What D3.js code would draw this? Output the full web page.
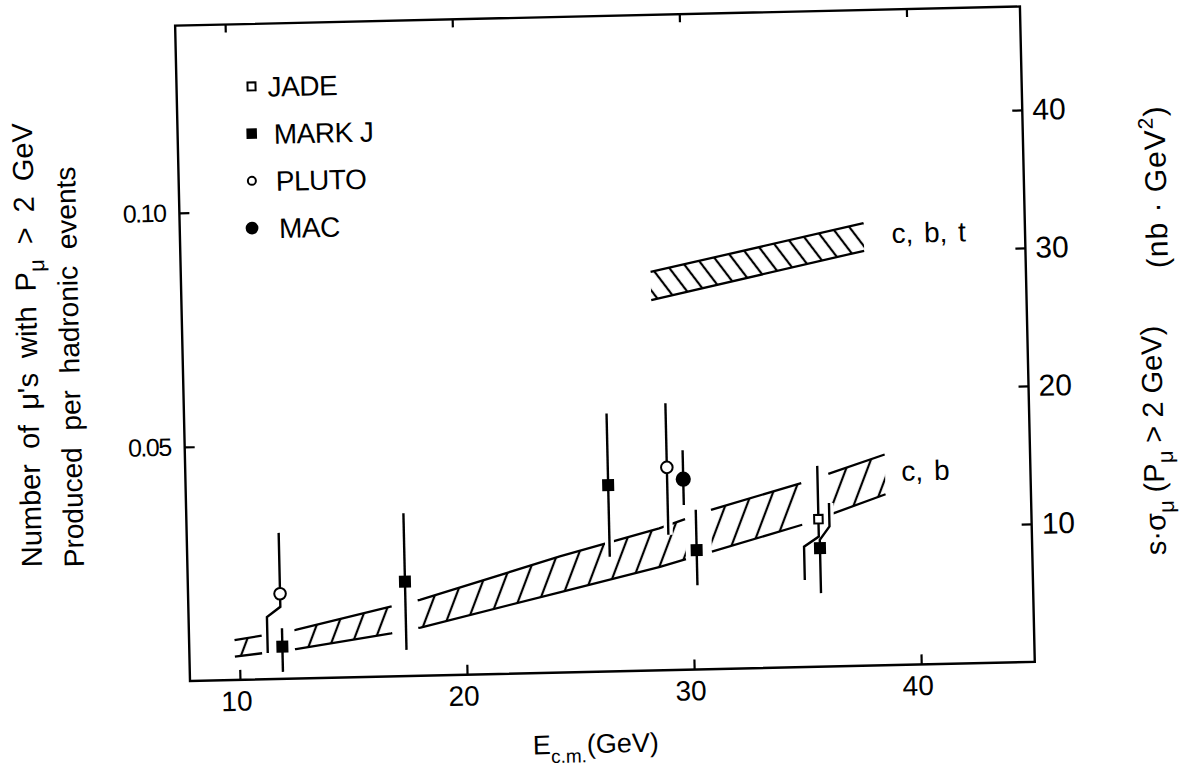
<!DOCTYPE html>
<html lang="en">
<head>
<meta charset="utf-8" />
<title>Muons per hadronic event vs E c.m.</title>
<script src="https://d3js.org/d3.v7.min.js"></script>
<style>
  body { margin: 0; background: #fff; }
  svg { display: block; font-family: "Liberation Sans", Arial, sans-serif; }
  .axis path { display: none; }
  .axis line { stroke: #000; stroke-width: 2.2; }
  .axis text { font-family: "Liberation Sans", Arial, sans-serif; fill: #000; }
</style>
</head>
<body>
<svg width="1182" height="769"></svg>
<script>
// ---- data ----
var xTicks = [10, 20, 30, 40];
var yTicks = [0.05, 0.10];
var yRTicks = [10, 20, 30, 40];

// points: energy, value, top of bar, bottom of bar
var jadeE = [35.62],  jadeVal = [0.0315], jadeHi = [0.0429], jadeLo = [0.0186];
var markjE = [11.9, 17.36, 26.4, 30.23, 35.66];
var markjVal = [0.0069, 0.0202, 0.0398, 0.0255, 0.0253];
var markjHi  = [0.0108, 0.0348, 0.0551, 0.0341, 0.0349];
var markjLo  = [0.0015, 0.0056, 0.0245, 0.0180, 0.0157];
var plutoE = [11.85, 29.0], plutoVal = [0.0182, 0.0433], plutoHi = [0.0312, 0.0570], plutoLo = [0.0056, 0.0289];
var macE = [29.71], macVal = [0.0407], macHi = [0.0469], macLo = [0.0352];

// bars drawn with a side-step to keep them apart
var jogSet   = ["PLUTO", "JADE", "MARK J"];
var jogE     = [11.85, 35.62, 35.66];
var jogFrom  = [0.0154, 0.0278, 0.0271];
var jogTo    = [0.0133, 0.0257, 0.0299];
var jogShift = [-0.6, -0.66, 0.44];

// c,b band edges
var cbE    = [9.8, 12.5, 16.7, 18, 24.2, 28.6, 30.9, 34.9, 38.6];
var cbHigh = [0.0085, 0.0104, 0.0149, 0.0162, 0.0248, 0.0303, 0.0340, 0.0393, 0.0450];
var cbLow  = [0.0050, 0.0063, 0.0092, 0.0103, 0.0172, 0.0221, 0.0251, 0.0304, 0.0365];
var cbSegStart = [9.8, 12.45, 17.9, 30.9, 36.1];
var cbSegEnd   = [11.0, 16.75, 29.75, 34.9, 38.6];

// c,b,t band edges
var cbtE    = [28.48, 37.9];
var cbtHigh = [0.0851, 0.0945];
var cbtLow  = [0.0791, 0.0886];

var legendNames = ["JADE", "MARK J", "PLUTO", "MAC"];

// ---- layout ----
var svg = d3.select("svg");
var mLeft = 190, mRight = 1035, mBottom = 681, mTop = 25.5;
var tilt = -1.3; // the scanned page sits slightly askew

var x = d3.scaleLinear().domain([7.8, 45]).range([mLeft, mRight]);
var y = d3.scaleLinear().domain([0, 0.14]).range([mBottom, mTop]);
var yR = d3.scaleLinear().domain([0, 47.5]).range([mBottom, mTop]);

// page position -> position in the tilted frame
function unTilt(sx, sy) {
  var a = -tilt * Math.PI / 180, c = Math.cos(a), s = Math.sin(a);
  var dx = sx - mLeft, dy = sy - mBottom;
  return [mLeft + dx * c - dy * s, mBottom + dx * s + dy * c];
}

var defs = svg.append("defs");
var p1 = defs.append("pattern").attr("id", "hatchCB")
    .attr("patternUnits", "userSpaceOnUse")
    .attr("width", 20).attr("height", 40)
    .attr("patternTransform", "rotate(22)");
p1.append("line").attr("x1", 10).attr("x2", 10).attr("y1", -2).attr("y2", 42)
    .attr("stroke", "#000").attr("stroke-width", 2.2);
var p2 = defs.append("pattern").attr("id", "hatchCBT")
    .attr("patternUnits", "userSpaceOnUse")
    .attr("width", 14).attr("height", 40)
    .attr("patternTransform", "rotate(-36)");
p2.append("line").attr("x1", 7).attr("x2", 7).attr("y1", -2).attr("y2", 42)
    .attr("stroke", "#000").attr("stroke-width", 2.2);

var g = svg.append("g").attr("transform", "rotate(" + tilt + "," + mLeft + "," + mBottom + ")");

// frame
g.append("rect")
    .attr("x", mLeft).attr("y", mTop)
    .attr("width", mRight - mLeft).attr("height", mBottom - mTop)
    .attr("fill", "none").attr("stroke", "#000").attr("stroke-width", 2.4);

// axes
g.append("g").attr("class", "axis")
    .attr("transform", "translate(0," + mBottom + ")")
    .call(d3.axisBottom(x).tickValues(xTicks).tickSize(-10).tickPadding(11).tickFormat(d3.format("d")))
    .selectAll("text").style("font-size", "28px").attr("dx", -4);
g.append("g").attr("class", "axis")
    .attr("transform", "translate(0," + mTop + ")")
    .call(d3.axisTop(x).tickValues(xTicks).tickSize(-8).tickFormat(""));
g.append("g").attr("class", "axis")
    .attr("transform", "translate(" + mLeft + ",0)")
    .call(d3.axisLeft(y).tickValues(yTicks).tickSize(-10).tickPadding(14).tickFormat(d3.format(".2f")))
    .selectAll("text").style("font-size", "25px").style("letter-spacing", "-1.5px");
g.append("g").attr("class", "axis")
    .attr("transform", "translate(" + mRight + ",0)")
    .call(d3.axisRight(yR).tickValues(yRTicks).tickSize(-10).tickPadding(10).tickFormat(d3.format("d")))
    .selectAll("text").style("font-size", "30px");

// bands
function band(Es, lows, highs, e0, e1) {
  var lo = d3.scaleLinear().domain(Es).range(lows);
  var hi = d3.scaleLinear().domain(Es).range(highs);
  var pts = [e0].concat(Es.filter(function(e) { return e > e0 && e < e1; }), [e1]);
  return pts.map(function(e) { return {E: e, lo: lo(e), hi: hi(e)}; });
}
var area = d3.area().x(function(d) { return x(d.E); })
    .y0(function(d) { return y(d.lo); }).y1(function(d) { return y(d.hi); });
var edgeLo = d3.line().x(function(d) { return x(d.E); }).y(function(d) { return y(d.lo); });
var edgeHi = d3.line().x(function(d) { return x(d.E); }).y(function(d) { return y(d.hi); });

function drawBand(pts, fill) {
  g.append("path").attr("d", area(pts)).attr("fill", fill);
  g.append("path").attr("d", edgeLo(pts)).attr("fill", "none").attr("stroke", "#000").attr("stroke-width", 2.3);
  g.append("path").attr("d", edgeHi(pts)).attr("fill", "none").attr("stroke", "#000").attr("stroke-width", 2.3);
}
cbSegStart.forEach(function(s, i) {
  drawBand(band(cbE, cbLow, cbHigh, s, cbSegEnd[i]), "url(#hatchCB)");
});
drawBand(band(cbtE, cbtLow, cbtHigh, cbtE[0], cbtE[1]), "url(#hatchCBT)");

// points
var sets = [
  {name: "JADE",   E: jadeE,  v: jadeVal,  hi: jadeHi,  lo: jadeLo,  shape: "sq",  fill: "#fff", size: 8.5},
  {name: "MARK J", E: markjE, v: markjVal, hi: markjHi, lo: markjLo, shape: "sq",  fill: "#000", size: 10},
  {name: "PLUTO",  E: plutoE, v: plutoVal, hi: plutoHi, lo: plutoLo, shape: "cir", fill: "#fff", size: 5.8},
  {name: "MAC",    E: macE,   v: macVal,   hi: macHi,   lo: macLo,   shape: "cir", fill: "#000", size: 6.6}
];
var points = [];
sets.forEach(function(s) {
  s.E.forEach(function(e, i) {
    points.push({set: s, E: e, v: s.v[i], hi: s.hi[i], lo: s.lo[i]});
  });
});

function barPath(d) {
  var j = -1;
  jogSet.forEach(function(n, k) { if (n === d.set.name && jogE[k] === d.E) j = k; });
  if (j < 0) return [[d.E, d.hi], [d.E, d.lo]];
  var end = jogTo[j] < jogFrom[j] ? d.lo : d.hi;
  var start = end === d.lo ? d.hi : d.lo;
  return [[d.E, start], [d.E, jogFrom[j]], [d.E + jogShift[j], jogTo[j]], [d.E + jogShift[j], end]];
}
var barLine = d3.line().x(function(p) { return x(p[0]); }).y(function(p) { return y(p[1]); });

g.selectAll(".halo").data(points).enter().append("path")
    .attr("d", function(d) { return barLine(barPath(d)); })
    .attr("fill", "none").attr("stroke", "#fff").attr("stroke-width", 9);
g.selectAll(".bar").data(points).enter().append("path")
    .attr("d", function(d) { return barLine(barPath(d)); })
    .attr("fill", "none").attr("stroke", "#000").attr("stroke-width", 2.4);

function marker(sel, s, size) {
  if (s.shape === "sq") {
    sel.append("rect").attr("x", -size / 2).attr("y", -size / 2)
        .attr("width", size).attr("height", size)
        .attr("fill", s.fill).attr("stroke", "#000").attr("stroke-width", 2);
  } else {
    sel.append("circle").attr("r", size)
        .attr("fill", s.fill).attr("stroke", "#000").attr("stroke-width", 2);
  }
}
points.forEach(function(d) {
  var m = g.append("g").attr("transform", "translate(" + x(d.E) + "," + y(d.v) + ")");
  marker(m, d.set, d.set.size);
});

// legend
var legSize = [8, 8.5, 4, 5.4];
var legTextDx = [16, 22, 24, 27];
legendNames.forEach(function(n, i) {
  var s = sets.filter(function(t) { return t.name === n; })[0];
  var pos = [265 - i * 0.9, 88 + i * 47.2];
  var lg = g.append("g").attr("transform", "translate(" + pos[0] + "," + pos[1] + ")");
  marker(lg, s, legSize[i]);
  lg.append("text").attr("x", legTextDx[i]).attr("y", 10.5)
      .style("font-size", "28px").style("letter-spacing", "-0.5px").text(n);
});

// band labels
g.append("text").attr("x", x(39.12)).attr("y", y(0.0901))
    .style("font-size", "28px").style("word-spacing", "3px").text("c, b, t");
g.append("text").attr("x", x(39.32)).attr("y", y(0.0393))
    .style("font-size", "28px").style("word-spacing", "3px").text("c, b");

// x title
var xt = unTilt(596, 753);
var xTitle = g.append("text").attr("x", xt[0]).attr("y", xt[1])
    .attr("text-anchor", "middle").style("font-size", "27px");
xTitle.append("tspan").text("E");
xTitle.append("tspan").attr("dy", 9).style("font-size", "19px").text("c.m.");
xTitle.append("tspan").attr("dy", -9).text("(GeV)");

// left titles
var l1 = unTilt(42, 567), l2 = unTilt(84, 567);
var t1 = g.append("text").attr("transform", "translate(" + l1[0] + "," + l1[1] + ") rotate(-90)")
    .style("font-size", "29px").style("word-spacing", "7px");
t1.append("tspan").text("Number of μ's with P");
t1.append("tspan").attr("dy", 9).style("font-size", "22px").text("μ");
t1.append("tspan").attr("dy", -9).text(" > 2 GeV");
g.append("text").attr("transform", "translate(" + l2[0] + "," + l2[1] + ") rotate(-90)")
    .style("font-size", "28px").style("word-spacing", "9px")
    .text("Produced per hadronic events");

// right titles
var r1 = unTilt(1166, 555), r2 = unTilt(1168, 268);
var t2 = g.append("text").attr("transform", "translate(" + r1[0] + "," + r1[1] + ") rotate(-90)")
    .style("font-size", "29px");
t2.append("tspan").text("s·σ");
t2.append("tspan").attr("dy", 9).style("font-size", "22px").text("μ");
t2.append("tspan").attr("dy", -9).text(" (P");
t2.append("tspan").attr("dy", 9).style("font-size", "22px").text("μ");
t2.append("tspan").attr("dy", -9).text(" > 2 GeV)");
var t3 = g.append("text").attr("transform", "translate(" + r2[0] + "," + r2[1] + ") rotate(-90)")
    .style("font-size", "30px").style("letter-spacing", "1px");
t3.append("tspan").text("(nb · GeV");
t3.append("tspan").attr("dy", -12).style("font-size", "21px").text("2");
t3.append("tspan").attr("dy", 12).text(")");
</script>
</body>
</html>
